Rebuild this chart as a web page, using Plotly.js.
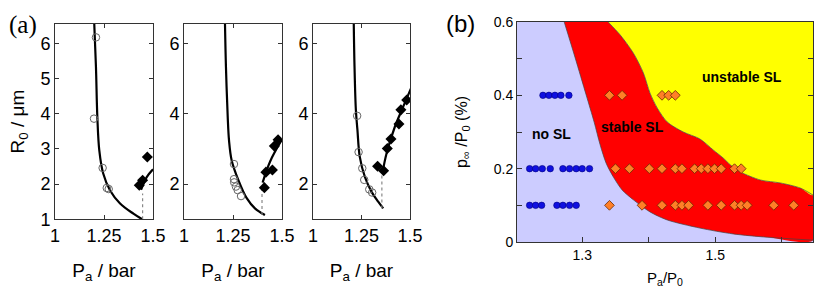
<!DOCTYPE html>
<html>
<head>
<meta charset="utf-8">
<script src="https://cdn.plot.ly/plotly-3.0.1.min.js"></script>
<style>html,body{margin:0;padding:0;background:#fff;}#chart{width:822px;height:294px;}</style>
</head>
<body>
<div id="chart"></div>
<script>
// ---------- Panel (a) data ----------
const a1LowerX = [1.200,1.209,1.216,1.226,1.246,1.281,1.332,1.400,1.445];
const a1LowerY = [6.60,5.33,3.91,2.96,2.30,1.82,1.45,1.16,1.00];
const a1UpperX = [1.439,1.468,1.500];
const a1UpperY = [1.84,2.20,2.42];
const a1DotX = [1.447,1.447];
const a1DotY = [1.00,1.73];
const a1CircX = [1.209,1.199,1.243,1.264,1.274];
const a1CircY = [6.17,3.86,2.46,1.89,1.86];
const a1DiaX = [1.430,1.447,1.471];
const a1DiaY = [1.97,2.11,2.77];

const a2LowerX = [1.209,1.214,1.223,1.2296,1.243,1.277,1.320,1.362,1.413];
const a2LowerY = [6.60,5.34,3.91,3.25,2.68,2.12,1.60,1.31,1.12];
const a2UpperX = [1.401,1.440,1.500];
const a2UpperY = [2.04,2.65,3.27];
const a2DotX = [1.398,1.398];
const a2DotY = [1.12,1.95];
const a2CircX = [1.255,1.255,1.256,1.265,1.274,1.291];
const a2CircY = [2.57,2.14,2.05,1.93,1.83,1.66];
const a2DiaX = [1.410,1.418,1.451,1.461,1.480];
const a2DiaY = [1.90,2.34,2.40,3.08,3.26];

const a3LowerX = [1.210,1.214,1.221,1.229,1.241,1.267,1.302,1.336,1.362];
const a3LowerY = [6.60,5.34,4.11,3.54,2.78,2.21,1.78,1.50,1.31];
const a3UpperX = [1.359,1.379,1.422,1.465,1.505];
const a3UpperY = [2.35,2.87,3.63,4.20,4.72];
const a3DotX = [1.355,1.355];
const a3DotY = [1.31,2.35];
const a3CircX = [1.2275,1.235,1.254,1.264,1.290,1.305];
const a3CircY = [3.94,2.91,2.45,2.12,1.85,1.76];
const a3DiaX = [1.333,1.364,1.383,1.402,1.443,1.453,1.483];
const a3DiaY = [2.51,2.38,3.01,3.28,3.71,4.11,4.39];

const aXTicks = [1, 1.25, 1.5];
const aXTickText = ['1', '1.25', '1.5'];
const a1YTicks = [1, 2, 3, 4, 5, 6];
const a23YTicks = [2, 4, 6];

// ---------- Panel (b) data ----------
const pLevels = [0.1, 0.2, 0.4];
const noSL_01 = [1.2018,1.221,1.230,1.239,1.262,1.271,1.281,1.291];
const noSL_02 = [1.221,1.230,1.240,1.252,1.271,1.281,1.291,1.300,1.311];
const noSL_04 = [1.241,1.250,1.259,1.268,1.280];
const SL_01 = [1.341,1.390,1.420,1.440,1.450,1.460,1.489,1.509,1.529,1.539,1.548,1.588,1.618];
const SL_02 = [1.350,1.371,1.401,1.420,1.440,1.450,1.469,1.479,1.489,1.499,1.509,1.529,1.539];
const SL_04 = [1.341,1.360,1.420,1.430,1.440];

// boundary between "no SL" and "stable SL"
const lowBoundX = [1.273,1.2895,1.306,1.318,1.327,1.336,1.347,1.360,1.377,1.402,1.428,1.477,1.527,1.578,1.647];
const lowBoundY = [0.600,0.502,0.401,0.327,0.265,0.215,0.177,0.142,0.115,0.082,0.060,0.038,0.022,0.013,0.005];
// boundary between "stable SL" and "unstable SL"
const upBoundX = [1.339,1.357,1.377,1.392,1.402,1.413,1.428,1.452,1.477,1.497,1.512,1.523,1.538,1.568,1.598,1.628,1.647];
const upBoundY = [0.600,0.565,0.515,0.461,0.406,0.365,0.327,0.300,0.281,0.251,0.229,0.210,0.191,0.169,0.161,0.147,0.128];

const bXRange = [1.202, 1.647];
const bYRange = [0, 0.6];
const bXTicks = [1.3, 1.4, 1.5, 1.6];
const bXTickText = ['1.3', '', '1.5', ''];
const bYTicks = [0, 0.1, 0.2, 0.3, 0.4, 0.5, 0.6];
const bYTickText = ['0', '', '0.2', '', '0.4', '', '0.6'];

// ---------- build traces ----------
const W = 822, H = 294;
const traces = [];
function panelA(lx, ly, ux, uy, dx, dy, cx, cy, mx, my, xa, ya) {
  traces.push({x: lx, y: ly, xaxis: xa, yaxis: ya, mode: 'lines', line: {color: '#000', width: 2.2, shape: 'spline'}, hoverinfo: 'skip'});
  traces.push({x: ux, y: uy, xaxis: xa, yaxis: ya, mode: 'lines', line: {color: '#000', width: 2.2, shape: 'spline'}, hoverinfo: 'skip'});
  traces.push({x: dx, y: dy, xaxis: xa, yaxis: ya, mode: 'lines', line: {color: '#888', width: 1.2, dash: 'dot'}, hoverinfo: 'skip'});
  traces.push({x: cx, y: cy, xaxis: xa, yaxis: ya, mode: 'markers', marker: {symbol: 'circle-open', size: 7.5, color: '#666', line: {width: 1, color: '#666'}}});
  traces.push({x: mx, y: my, xaxis: xa, yaxis: ya, mode: 'markers', marker: {symbol: 'diamond', size: 8.5, color: '#000'}});
}
panelA(a1LowerX,a1LowerY,a1UpperX,a1UpperY,a1DotX,a1DotY,a1CircX,a1CircY,a1DiaX,a1DiaY,'x','y');
panelA(a2LowerX,a2LowerY,a2UpperX,a2UpperY,a2DotX,a2DotY,a2CircX,a2CircY,a2DiaX,a2DiaY,'x2','y2');
panelA(a3LowerX,a3LowerY,a3UpperX,a3UpperY,a3DotX,a3DotY,a3CircX,a3CircY,a3DiaX,a3DiaY,'x3','y3');

// panel b regions
const xMax = bXRange[1], yMax = bYRange[1];
const yellowX = upBoundX.concat([xMax]);
const yellowY = upBoundY.concat([yMax]);
const redX = upBoundX.concat(lowBoundX.slice().reverse());
const redY = upBoundY.concat(lowBoundY.slice().reverse());
traces.push({x: redX, y: redY, xaxis: 'x4', yaxis: 'y4', mode: 'lines', fill: 'toself', fillcolor: '#FF0000', line: {color: '#FF0000', width: 0, shape: 'spline', smoothing: 0.8}, hoverinfo: 'skip'});
traces.push({x: yellowX, y: yellowY, xaxis: 'x4', yaxis: 'y4', mode: 'lines', fill: 'toself', fillcolor: '#FFFF00', line: {color: '#FFFF00', width: 0, shape: 'spline', smoothing: 0.8}, hoverinfo: 'skip'});
traces.push({x: lowBoundX, y: lowBoundY, xaxis: 'x4', yaxis: 'y4', mode: 'lines', line: {color: '#444', width: 0.7, shape: 'spline', smoothing: 0.8}, hoverinfo: 'skip'});
traces.push({x: upBoundX, y: upBoundY, xaxis: 'x4', yaxis: 'y4', mode: 'lines', line: {color: '#444', width: 0.7, shape: 'spline', smoothing: 0.8}, hoverinfo: 'skip'});

const noSLSets = [noSL_01, noSL_02, noSL_04];
const SLSets = [SL_01, SL_02, SL_04];
noSLSets.forEach((xs, i) => traces.push({x: xs, y: xs.map(() => pLevels[i]), xaxis: 'x4', yaxis: 'y4', mode: 'markers', cliponaxis: false,
  marker: {symbol: 'circle', size: 6.5, color: '#1010E0', line: {width: 0.6, color: '#000080'}}}));
SLSets.forEach((xs, i) => traces.push({x: xs, y: xs.map(() => pLevels[i]), xaxis: 'x4', yaxis: 'y4', mode: 'markers', cliponaxis: false,
  marker: {symbol: 'diamond', size: 7.5, color: '#FF7F27', line: {width: 0.8, color: '#6A2A00'}}}));

// ---------- layout ----------
const fontA = {family: 'Liberation Sans, Arial, sans-serif', size: 18, color: '#000'};
const fontB = {family: 'Liberation Sans, Arial, sans-serif', size: 14, color: '#000'};
const yTop = 1 - 24 / H, yBot = 1 - 219.3 / H;
function ax(dom, extra) {
  return Object.assign({domain: dom, showline: true, linecolor: '#333', linewidth: 1, mirror: 'ticks', ticks: 'inside', ticklen: 4, tickcolor: '#333',
    showgrid: false, zeroline: false, fixedrange: true, tickfont: fontA}, extra);
}
const xTitle = {text: 'P<sub>a</sub> / bar', font: {family: 'Liberation Sans, Arial, sans-serif', size: 19, color: '#000'}, standoff: 18};
const layout = {
  width: W, height: H, margin: {l: 0, r: 0, t: 0, b: 0}, showlegend: false,
  paper_bgcolor: '#fff', plot_bgcolor: '#fff',
  xaxis: ax([55 / W, 153 / W], {anchor: 'y', range: [1, 1.5], tickvals: aXTicks, ticktext: aXTickText, title: xTitle}),
  yaxis: ax([yBot, yTop], {anchor: 'x', range: [1, 6.55], tickvals: a1YTicks,
    title: {text: 'R<sub>0</sub> / μm', font: {family: 'Liberation Sans, Arial, sans-serif', size: 19, color: '#000'}, standoff: 10}}),
  xaxis2: ax([184 / W, 282 / W], {anchor: 'y2', range: [1, 1.5], tickvals: aXTicks, ticktext: aXTickText, title: xTitle}),
  yaxis2: ax([yBot, yTop], {anchor: 'x2', range: [1, 6.55], tickvals: a23YTicks}),
  xaxis3: ax([313 / W, 410 / W], {anchor: 'y3', range: [1, 1.5], tickvals: aXTicks, ticktext: aXTickText, title: xTitle}),
  yaxis3: ax([yBot, yTop], {anchor: 'x3', range: [1, 6.55], tickvals: a23YTicks}),
  xaxis4: ax([517 / W, 813 / W], {anchor: 'y4', range: bXRange, tickvals: bXTicks, ticktext: bXTickText, tickfont: fontB, mirror: true, ticklen: 5,
    title: {text: 'P<sub>a</sub>/P<sub>0</sub>', font: {family: 'Liberation Sans, Arial, sans-serif', size: 15, color: '#000'}, standoff: 10}}),
  yaxis4: ax([1 - 242 / H, 1 - 22 / H], {anchor: 'x4', range: bYRange, tickvals: bYTicks, ticktext: bYTickText, tickfont: fontB, ticklen: 5,
    title: {text: 'p<sub>∞</sub> /P<sub>0</sub> (%)', font: {family: 'Liberation Sans, Arial, sans-serif', size: 16, color: '#000'}, standoff: 22}}),
  shapes: [{type: 'rect', xref: 'x4 domain', yref: 'y4 domain', x0: 0, x1: 1, y0: 0, y1: 1, fillcolor: '#CCCCFF', line: {width: 0}, layer: 'below'}],
  annotations: [
    {xref: 'paper', yref: 'paper', x: 23 / W, y: 1 - 25 / H, xanchor: 'center', yanchor: 'middle', text: '(a)', showarrow: false, font: {family: 'Liberation Serif, Times New Roman, serif', size: 25, color: '#000'}},
    {xref: 'paper', yref: 'paper', x: 460 / W, y: 1 - 24 / H, xanchor: 'center', yanchor: 'middle', text: '(b)', showarrow: false, font: {family: 'Liberation Sans, Arial, sans-serif', size: 24, color: '#000'}},
    {xref: 'x4', yref: 'y4', x: 1.254, y: 0.295, text: '<b>no SL</b>', showarrow: false, font: {family: 'Liberation Sans, Arial, sans-serif', size: 14, color: '#000'}},
    {xref: 'x4', yref: 'y4', x: 1.375, y: 0.314, text: '<b>stable SL</b>', showarrow: false, font: {family: 'Liberation Sans, Arial, sans-serif', size: 14, color: '#000'}},
    {xref: 'x4', yref: 'y4', x: 1.54, y: 0.451, text: '<b>unstable SL</b>', showarrow: false, font: {family: 'Liberation Sans, Arial, sans-serif', size: 14, color: '#000'}}
  ]
};
Plotly.newPlot('chart', traces, layout, {displayModeBar: false, staticPlot: true});
</script>
</body>
</html>
